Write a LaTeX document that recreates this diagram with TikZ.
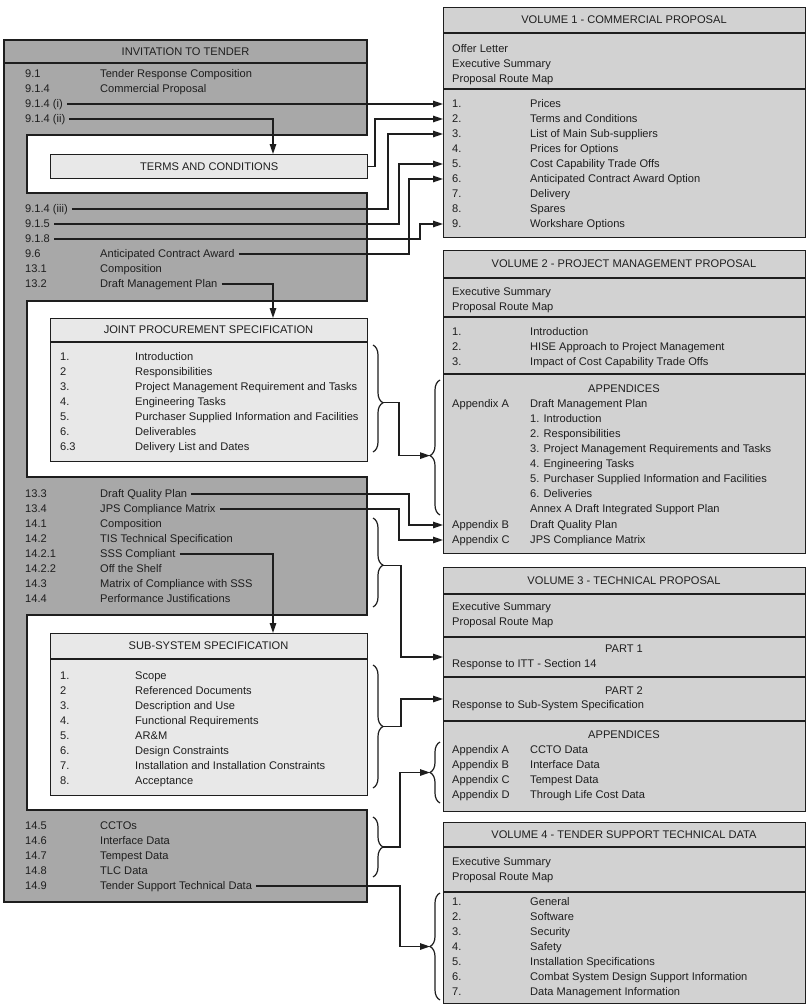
\documentclass[tikz,border=0pt]{standalone}
\usepackage{fontspec}
\setmainfont{Liberation Sans}
\usetikzlibrary{arrows.meta,decorations.pathreplacing,calc}
\definecolor{ittgray}{RGB}{168,168,168}
\definecolor{volgray}{RGB}{210,210,210}
\definecolor{specfill}{RGB}{232,232,232}
\definecolor{ink}{RGB}{30,30,30}
\newcommand{\diagfont}{\fontsize{11.1}{13}\selectfont}

\begin{document}
\begin{tikzpicture}[x=1pt,y=-1pt,
  every node/.style={font=\diagfont, text=ink, inner sep=0pt},
  row/.style={anchor=west, text height=7.9pt, text depth=0pt},
  head/.style={anchor=center, text height=7.9pt, text depth=0pt},
  box/.style={draw=ink, line width=1.3pt},
  volbox/.style={box, fill=volgray, anchor=north west, minimum width=362pt},
  specbox/.style={box, fill=specfill, anchor=north west, minimum width=317pt},
  conn/.style={draw=ink, line width=1.3pt},
  arr/.style={conn, -{Triangle[length=10pt,width=6.5pt]}},
  brc/.style={draw=ink, line width=1.2pt, decorate,
    decoration={brace, amplitude=10pt, aspect=#1}},
  brc/.default=0.5
]
\fill[white] (0,0) rectangle (806,1004);
\useasboundingbox (0,0) rectangle (806,1004);

% ---------- Invitation to tender: grey frame with white bays ----------
\draw[box, fill=ittgray] (4,40) -- (367,40) -- (367,135) -- (27,135) -- (27,193)
  -- (367,193) -- (367,301) -- (27,301) -- (27,477) -- (367,477) -- (367,615)
  -- (27,615) -- (27,810) -- (367,810) -- (367,902) -- (4,902) -- cycle;
\draw[box] (4,63) -- (367,63);
\node[head] (itt) at (185.5,51.5) {INVITATION TO TENDER};

\foreach \y/\n/\t [count=\i] in {
  74/9.1/Tender Response Composition, 89/9.1.4/Commercial Proposal,
  104/9.1.4 (i)/{}, 119/9.1.4 (ii)/{}, 209/9.1.4 (iii)/{}, 224/9.1.5/{},
  239/9.1.8/{}, 254/9.6/Anticipated Contract Award, 269/13.1/Composition,
  284/13.2/Draft Management Plan, 494/13.3/Draft Quality Plan,
  509/13.4/JPS Compliance Matrix, 524/14.1/Composition,
  539/14.2/TIS Technical Specification, 554/14.2.1/SSS Compliant,
  569/14.2.2/Off the Shelf, 584/14.3/Matrix of Compliance with SSS,
  599/14.4/Performance Justifications, 826/14.5/CCTOs, 841/14.6/Interface Data,
  856/14.7/Tempest Data, 871/14.8/TLC Data, 886/14.9/Tender Support Technical Data}
{
  \node[row] (in\i) at (25,\y) {\n};
  \node[row] (it\i) at (100,\y) {\t};
}

% Terms and conditions
\node[specbox, minimum height=24pt] (tc) at (50,154) {};
\node[head] (tct) at (tc.center) {TERMS AND CONDITIONS};

% Joint procurement specification
\node[specbox, minimum height=143pt] (jps) at (50,318) {};
\draw[box] (50,342) -- (367,342);
\node[head] (jpst) at (208.5,330) {JOINT PROCUREMENT SPECIFICATION};
\foreach \n/\t [count=\i] in {1./Introduction, 2/Responsibilities,
  3./Project Management Requirement and Tasks, 4./Engineering Tasks,
  5./Purchaser Supplied Information and Facilities, 6./Deliverables,
  6.3/Delivery List and Dates}
{
  \node[row] (jn\i) at (60,342+15*\i) {\n};
  \node[row] (jt\i) at (135,342+15*\i) {\t};
}

% Sub-system specification
\node[specbox, minimum height=162pt] (sss) at (50,633) {};
\draw[box] (50,659) -- (367,659);
\node[head] (ssst) at (208.5,646) {SUB-SYSTEM SPECIFICATION};
\foreach \n/\t [count=\i] in {1./Scope, 2/Referenced Documents,
  3./Description and Use, 4./Functional Requirements, 5./AR\&M,
  6./Design Constraints, 7./Installation and Installation Constraints,
  8./Acceptance}
{
  \node[row] (sn\i) at (60,661+15*\i) {\n};
  \node[row] (st\i) at (135,661+15*\i) {\t};
}

% ---------- Volume 1 ----------
\node[volbox, minimum height=230pt] (v1) at (443,7) {};
\draw[box] (443,33) -- (805,33);
\draw[box] (443,89) -- (805,89);
\node[head] (v1h) at (624,20) {VOLUME 1 - COMMERCIAL PROPOSAL};
\node[row] (v1a) at (452,49) {Offer Letter};
\node[row] (v1b) at (452,64) {Executive Summary};
\node[row] (v1c) at (452,79) {Proposal Route Map};
\foreach \n/\t [count=\i] in {1./Prices, 2./Terms and Conditions,
  3./List of Main Sub-suppliers, 4./Prices for Options,
  5./Cost Capability Trade Offs, 6./Anticipated Contract Award Option,
  7./Delivery, 8./Spares, 9./Workshare Options}
{
  \node[row] (an\i) at (452,89+15*\i) {\n};
  \node[row] (at\i) at (530,89+15*\i) {\t};
}

% ---------- Volume 2 ----------
\node[volbox, minimum height=303pt] (v2) at (443,250) {};
\draw[box] (443,278) -- (805,278);
\draw[box] (443,317) -- (805,317);
\draw[box] (443,374) -- (805,374);
\node[head] (v2h) at (624,264) {VOLUME 2 - PROJECT MANAGEMENT PROPOSAL};
\node[row] (v2a) at (452,292) {Executive Summary};
\node[row] (v2b) at (452,307) {Proposal Route Map};
\foreach \n/\t [count=\i] in {1./Introduction,
  2./HISE Approach to Project Management,
  3./Impact of Cost Capability Trade Offs}
{
  \node[row] (bn\i) at (452,317+15*\i) {\n};
  \node[row] (bt\i) at (530,317+15*\i) {\t};
}
\node[head] (v2app) at (624,389) {APPENDICES};
\node[row] (aa2) at (452,404) {Appendix A};
\node[row] (aa2t) at (530,404) {Draft Management Plan};
\foreach \t [count=\i] in {1. Introduction, 2. Responsibilities,
  3. Project Management Requirements and Tasks, 4. Engineering Tasks,
  5. Purchaser Supplied Information and Facilities, 6. Deliveries,
  Annex A Draft Integrated Support Plan}
{
  \node[row] (dm\i) at (530,404+15*\i) {\t};
}
\node[row] (ab2) at (452,525) {Appendix B};
\node[row] (ab2t) at (530,525) {Draft Quality Plan};
\node[row] (ac2) at (452,540) {Appendix C};
\node[row] (ac2t) at (530,540) {JPS Compliance Matrix};

% ---------- Volume 3 ----------
\node[volbox, minimum height=244pt] (v3) at (443,567) {};
\foreach \yy in {594,637,677,721} \draw[box] (443,\yy) -- (805,\yy);
\node[head] (v3h) at (624,581) {VOLUME 3 - TECHNICAL PROPOSAL};
\node[row] (v3a) at (452,607) {Executive Summary};
\node[row] (v3b) at (452,622) {Proposal Route Map};
\node[head] (pt1) at (624,649) {PART 1};
\node[row] (pt1t) at (452,664) {Response to ITT - Section 14};
\node[head] (pt2) at (624,691) {PART 2};
\node[row] (pt2t) at (452,705) {Response to Sub-System Specification};
\node[head] (v3app) at (624,735) {APPENDICES};
\foreach \n/\t [count=\i] in {Appendix A/CCTO Data, Appendix B/Interface Data,
  Appendix C/Tempest Data, Appendix D/Through Life Cost Data}
{
  \node[row] (cn\i) at (452,735+15*\i) {\n};
  \node[row] (ct\i) at (530,735+15*\i) {\t};
}

% ---------- Volume 4 ----------
\node[volbox, minimum height=181pt] (v4) at (443,822) {};
\draw[box] (443,847) -- (805,847);
\draw[box] (443,892) -- (805,892);
\node[head] (v4h) at (624,835) {VOLUME 4 - TENDER SUPPORT TECHNICAL DATA};
\node[row] (v4a) at (452,862) {Executive Summary};
\node[row] (v4b) at (452,877) {Proposal Route Map};
\foreach \n/\t [count=\i] in {1./General, 2./Software, 3./Security, 4./Safety,
  5./Installation Specifications, 6./Combat System Design Support Information,
  7./Data Management Information}
{
  \node[row] (dn\i) at (452,887+15*\i) {\n};
  \node[row] (dt\i) at (530,887+15*\i) {\t};
}

% ---------- Braces ----------
\draw[brc=0.54] (373,345) -- (373,452);
\coordinate (tJ) at (383,402.8);
\draw[brc=0.53] (373,518) -- (373,607);
\coordinate (tT) at (383,565.2);
\draw[brc=0.5] (373,665) -- (373,788);
\coordinate (tS) at (383,726.5);
\draw[brc=0.5] (373,817) -- (373,877);
\coordinate (tC) at (383,847);
\draw[brc=0.44] (440,515) -- (440,380);
\coordinate (tV2) at (430,455.6);
\draw[brc=0.5] (440,803) -- (440,742);
\coordinate (tV3) at (430,772.5);
\draw[brc=0.5] (440,1000) -- (440,893);
\coordinate (tV4) at (430,946.5);

% ---------- Connector buses ----------
\coordinate (busd) at (273,0);
\coordinate (bus1) at (375,0);
\coordinate (bus2) at (388,0);
\coordinate (bus3) at (399,0);
\coordinate (bus4) at (409,0);
\coordinate (bus5) at (420,0);
\coordinate (bus6) at (401,0);
\coordinate (bus7) at (400,0);
\coordinate (p1) at (443,657);
\coordinate (p2) at (443,699);

% ---------- Connectors ----------
\draw[arr] ([xshift=4pt]in3.east) -- (an1 -| v1.west);
\draw[arr] (tc.east) -| (bus1 |- an2) -- (an2 -| v1.west);
\draw[arr] ([xshift=4pt]in5.east) -| (bus2 |- an3) -- (an3 -| v1.west);
\draw[arr] ([xshift=4pt]in6.east) -| (bus3 |- an5) -- (an5 -| v1.west);
\draw[arr] ([xshift=4pt]it8.east) -| (bus4 |- an6) -- (an6 -| v1.west);
\draw[arr] ([xshift=4pt]in7.east) -| (bus5 |- an9) -- (an9 -| v1.west);
\draw[arr] ([xshift=4pt]in4.east) -| (tc.north -| busd);
\draw[arr] ([xshift=4pt]it10.east) -| (jps.north -| busd);
\draw[arr] ([xshift=4pt]it15.east) -| (sss.north -| busd);
\draw[arr] (tJ) -| (bus3 |- tV2) -- (tV2);
\draw[arr] ([xshift=4pt]it11.east) -| (bus4 |- ab2) -- (ab2 -| v2.west);
\draw[arr] ([xshift=4pt]it12.east) -| (bus3 |- ac2) -- (ac2 -| v2.west);
\draw[arr] (tT) -| (bus6 |- p1) -- (p1);
\draw[arr] (tS) -| (bus6 |- p2) -- (p2);
\draw[arr] (tC) -| (bus7 |- tV3) -- (tV3);
\draw[arr] ([xshift=4pt]it23.east) -| (bus7 |- tV4) -- (tV4);
\end{tikzpicture}
\end{document}
